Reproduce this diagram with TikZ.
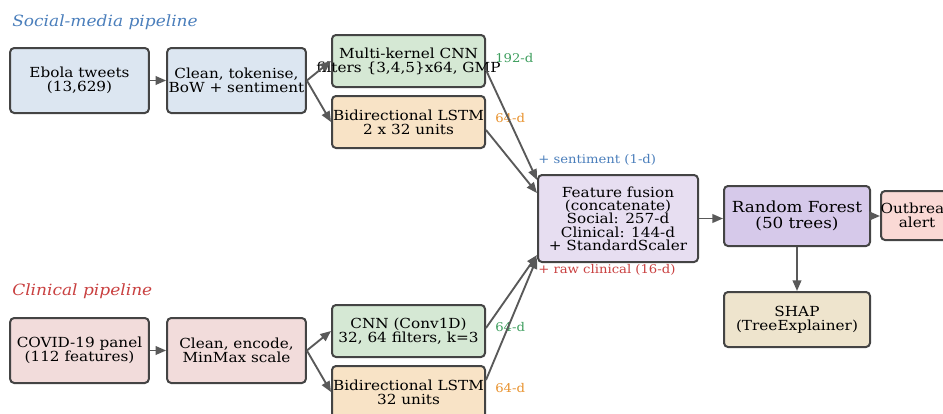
\documentclass[tikz,border=0pt]{standalone}
\usepackage{fontspec}
\setmainfont{DejaVu Serif}[FakeStretch=1.1]
\usetikzlibrary{arrows.meta}

\definecolor{socfill}{HTML}{DCE6F1}
\definecolor{clinfill}{HTML}{F2DCDB}
\definecolor{cnnfill}{HTML}{D5E8D4}
\definecolor{lstmfill}{HTML}{F8E3C6}
\definecolor{fusefill}{HTML}{E7DEF1}
\definecolor{rffill}{HTML}{D6C9EA}
\definecolor{alertfill}{HTML}{FAD9D5}
\definecolor{shapfill}{HTML}{EEE4CD}
\definecolor{edge}{HTML}{444444}
\definecolor{socblue}{HTML}{4A7EBB}
\definecolor{clinred}{HTML}{C94040}
\definecolor{dimgreen}{HTML}{3E9E5E}
\definecolor{dimorange}{HTML}{E8922E}

% ligne centree qui peut deborder de la boite
\newcommand{\wideline}[1]{\makebox[0pt]{#1}}

\begin{document}
\begin{tikzpicture}[x=0.75pt,y=-0.75pt,
  box/.style={draw=edge, line width=1.5pt, rounded corners=3pt, align=center,
    inner sep=0pt, font=\fontsize{10.4}{10.5}\selectfont},
  arr/.style={draw=black!65, line width=1.4pt, -{Triangle[length=8pt,width=6.5pt]}},
  dim/.style={anchor=west, inner sep=0pt, font=\fontsize{9}{10}\selectfont},
  pipe/.style={anchor=west, inner sep=0pt, font=\fontsize{11.6}{13}\selectfont\itshape}]

  \useasboundingbox (0,0) rectangle (943,414);

  % Titres des deux chaines
  \node[pipe, text=socblue] (tsoc) at (12,22) {Social-media pipeline};
  \node[pipe, text=clinred] (tclin) at (12,291) {Clinical pipeline};

  % Chaine reseaux sociaux
  \node[box, fill=socfill, minimum width=104pt, minimum height=48.75pt] (ebola) at (79.5,80.5) {Ebola tweets\\(13,629)};
  \node[box, fill=socfill, minimum width=104pt, minimum height=48.75pt] (cleanS) at (236.5,80.5) {\wideline{Clean, tokenise,}\\\wideline{BoW + sentiment}};
  \node[box, fill=cnnfill, minimum width=114.75pt, minimum height=39pt] (cnnS) at (408.5,61) {\wideline{Multi-kernel CNN}\\\wideline{filters \{3,4,5\}x64, GMP}};
  \node[box, fill=lstmfill, minimum width=114.75pt, minimum height=39pt] (lstmS) at (408.5,122) {\wideline{Bidirectional LSTM}\\2 x 32 units};

  % Chaine clinique
  \node[box, fill=clinfill, minimum width=104pt, minimum height=48.75pt] (covid) at (79.5,350.5) {\wideline{COVID-19 panel}\\(112 features)};
  \node[box, fill=clinfill, minimum width=104pt, minimum height=48.75pt] (cleanC) at (236.5,350.5) {Clean, encode,\\MinMax scale};
  \node[box, fill=cnnfill, minimum width=114.75pt, minimum height=39pt] (cnnC) at (408.5,331) {CNN (Conv1D)\\\wideline{32, 64 filters, k=3}};
  \node[box, fill=lstmfill, minimum width=114.75pt, minimum height=39pt] (lstmC) at (408.5,392) {\wideline{Bidirectional LSTM}\\32 units};

  % Fusion et classement
  \node[box, fill=fusefill, minimum width=120pt, minimum height=65.25pt, font=\fontsize{10.4}{10}\selectfont] (fusion) at (618,218.5) {Feature fusion\\(concatenate)\\Social: 257-d\\Clinical: 144-d\\\wideline{+ StandardScaler}};
  \node[box, fill=rffill, minimum width=109.5pt, minimum height=45pt, font=\fontsize{11.45}{11.5}\selectfont] (rf) at (797,216) {Random Forest\\(50 trees)};
  \node[box, fill=alertfill, minimum width=54pt, minimum height=36.75pt] (alert) at (917,215.5) {\wideline{Outbreak}\\alert};
  \node[box, fill=shapfill, minimum width=109.5pt, minimum height=41.25pt] (shap) at (797,319.5) {SHAP\\(TreeExplainer)};

  % Dimensions
  \node[dim, text=dimgreen] (dcnnS) at (495,58) {192-d};
  \node[dim, text=dimorange] (dlstmS) at (495,118) {64-d};
  \node[dim, text=dimgreen] (dcnnC) at (495,327) {64-d};
  \node[dim, text=dimorange] (dlstmC) at (495,388) {64-d};
  \node[dim, text=socblue] (dsent) at (538,160) {+ sentiment (1-d)};
  \node[dim, text=clinred] (draw) at (538,270) {+ raw clinical (16-d)};

  % Fleches
  \draw[arr] (ebola) -- (cleanS);
  \draw[arr] (cleanS.east) -- (cnnS.west);
  \draw[arr] (cleanS.east) -- (lstmS.west);
  \draw[arr] (covid) -- (cleanC);
  \draw[arr] (cleanC.east) -- (cnnC.west);
  \draw[arr] (cleanC.east) -- (lstmC.west);

  \draw[arr] ([yshift=-6.75pt]cnnS.east) -- ([yshift=28.9pt]fusion.west);
  \draw[arr] ([yshift=-6pt]lstmS.east) -- ([yshift=19.1pt]fusion.west);
  \draw[arr] ([yshift=2.25pt]cnnC.east) -- ([yshift=-27.4pt]fusion.west);
  \draw[arr] ([yshift=9pt]lstmC.east) -- ([yshift=-29.6pt]fusion.west);

  \draw[arr] (fusion.east) -- (fusion.east -| rf.west);
  \draw[arr] (rf.east) -- (rf.east -| alert.west);
  \draw[arr] (rf) -- (shap);
\end{tikzpicture}
\end{document}
